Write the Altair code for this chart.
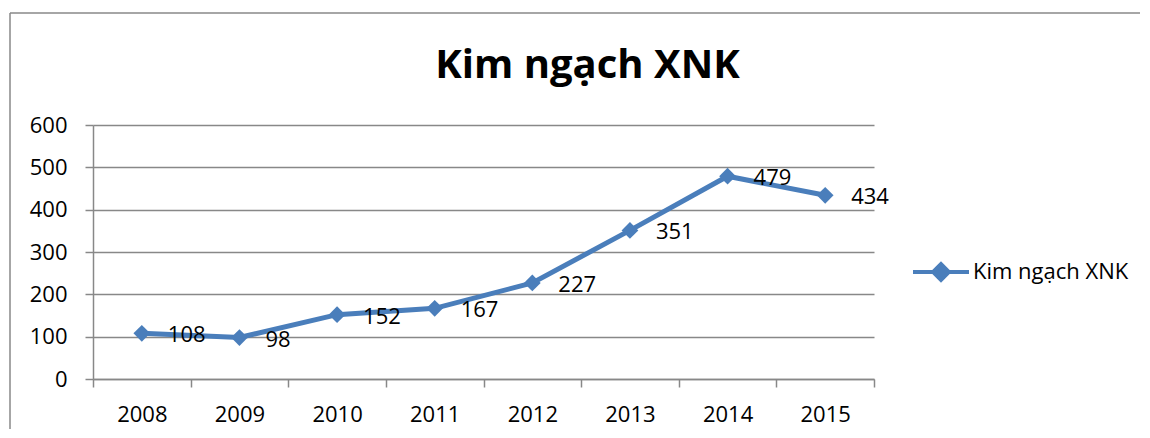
import altair as alt
import pandas as pd

years = ["2008", "2009", "2010", "2011", "2012", "2013", "2014", "2015"]
values = [108, 98, 152, 167, 227, 351, 479, 434]
series_name = "Kim ngạch XNK"
y_ticks = [0, 100, 200, 300, 400, 500, 600]
title_text = "Kim ngạch XNK"

df = pd.DataFrame({"year": years, "value": values, "series": [series_name] * len(years)})
frame_df = pd.DataFrame({"k": [0]})

BLUE = "#4A7EBB"
GRID = "#888888"
FONT = "Open Sans"

legend_path = "M-1,0 L1,0 M-0.28,0 L0,-0.28 L0.28,0 L0,0.28 Z"

x_enc = alt.X(
    "year:O",
    scale=alt.Scale(type="band", paddingInner=0, paddingOuter=0),
    bandPosition=0.5,
    axis=alt.Axis(
        title=None, labelAngle=0, tickBand="extent", grid=False,
        domainColor=GRID, tickColor=GRID, tickSize=8, tickWidth=1.5, domainWidth=1.5,
        labelPadding=17, labelFontSize=22, labelFont=FONT, labelColor="black",
    ),
)
y_enc = alt.Y(
    "value:Q",
    scale=alt.Scale(domain=[0, 600], nice=False),
    axis=alt.Axis(
        values=y_ticks, title=None, grid=True, gridColor=GRID, gridWidth=1.5,
        domainColor=GRID, tickColor=GRID, tickSize=8, tickWidth=1.5, domainWidth=1.5,
        labelPadding=18, labelFontSize=22, labelFont=FONT, labelColor="black",
    ),
)

base = alt.Chart(df)

line = base.mark_line(strokeWidth=5).encode(
    x=x_enc,
    y=y_enc,
    color=alt.Color(
        "series:N",
        scale=alt.Scale(range=[BLUE]),
        legend=alt.Legend(
            title=None, orient="none", legendX=818, legendY=117,
            symbolType=legend_path, symbolSize=3136, symbolStrokeWidth=4,
            symbolFillColor=BLUE, symbolStrokeColor=BLUE,
            labelFontSize=22, labelFont=FONT, labelColor="black", labelOffset=2,
        ),
    ),
)

points = base.mark_point(shape="diamond", filled=True, size=280, color=BLUE, opacity=1).encode(
    x=x_enc, y=y_enc
)

labels = base.mark_text(align="left", baseline="middle", dx=26, dy=2, fontSize=22, font=FONT, color="black").encode(
    x=x_enc, y=y_enc, text="value:Q"
)

border_left = alt.Chart(frame_df).mark_rule(color=GRID, strokeWidth=1.5).encode(
    x=alt.value(-83), y=alt.value(-112), y2=alt.value(330)
)
border_top = alt.Chart(frame_df).mark_rule(color=GRID, strokeWidth=1.5).encode(
    x=alt.value(-83), x2=alt.value(1100), y=alt.value(-112)
)

chart = alt.layer(border_left, border_top, line, points, labels).properties(
    width=781,
    height=254,
    title=alt.TitleParams(
        text=title_text, fontSize=40, font=FONT, fontWeight="bold", anchor="middle",
        dx=104, dy=78, color="black",
    ),
    autosize=alt.AutoSizeParams(type="none"),
    padding={"left": 85, "top": 117, "right": 266, "bottom": 50},
).configure_view(strokeWidth=0)

chart.save("out.html", embed_options={"renderer": "svg", "actions": False})
